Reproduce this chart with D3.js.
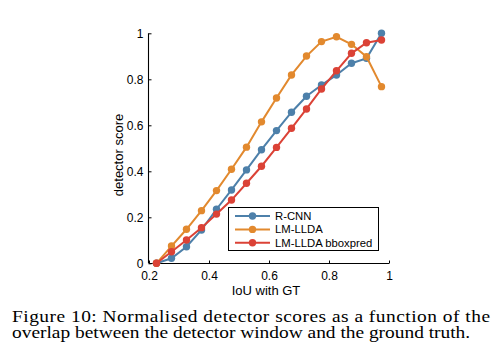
<!DOCTYPE html>
<html>
<head>
<meta charset="utf-8">
<script src="https://cdn.jsdelivr.net/npm/d3@7"></script>
<style>
  body { margin: 0; background: #fff; }
  svg { display: block; }
</style>
</head>
<body>
<svg id="chart"></svg>
<script>
var width = 498;
var height = 352;

// IoU bin centres
var iou = [0.225, 0.275, 0.325, 0.375, 0.425, 0.475, 0.525, 0.575, 0.625, 0.675, 0.725, 0.775, 0.825, 0.875, 0.925, 0.975];
var seriesNames = ["R-CNN", "LM-LLDA", "LM-LLDA bboxpred"];
var rcnn = [0, 0.022, 0.072, 0.145, 0.235, 0.319, 0.406, 0.494, 0.577, 0.657, 0.726, 0.775, 0.819, 0.870, 0.891, 1.0];
var lmllda = [0, 0.075, 0.148, 0.229, 0.316, 0.409, 0.505, 0.615, 0.719, 0.819, 0.901, 0.964, 0.985, 0.952, 0.898, 0.768];
var bboxpred = [0, 0.05, 0.101, 0.155, 0.214, 0.275, 0.348, 0.422, 0.504, 0.587, 0.671, 0.758, 0.837, 0.913, 0.959, 0.971];
var xTicks = [0.2, 0.4, 0.6, 0.8, 1];
var yTicks = [0, 0.2, 0.4, 0.6, 0.8, 1];
var colors = ["#4d80aa", "#e2892e", "#db4236"];

var svg = d3.select("#chart")
  .attr("width", width)
  .attr("height", height);

var x = d3.scaleLinear().domain([0.2, 1]).range([149, 389]);
var y = d3.scaleLinear().domain([0, 1]).range([263.3, 33.3]);

var sans = "'Liberation Sans', Arial, sans-serif";

// axes, ticks pointing inward
var yAxis = svg.append("g")
  .attr("transform", "translate(148.5,0)")
  .call(d3.axisLeft(y).tickValues(yTicks).tickSize(-3).tickPadding(5).tickFormat(d3.format("")));
var xAxis = svg.append("g")
  .attr("transform", "translate(0,263.5)")
  .call(d3.axisBottom(x).tickValues(xTicks).tickSize(-3).tickPadding(7.5).tickFormat(d3.format("")));

[xAxis, yAxis].forEach(function(g) {
  g.select(".domain").attr("stroke", "#000").attr("stroke-width", 1.1);
  g.selectAll(".tick line").attr("stroke", "#000");
  g.selectAll(".tick text")
    .attr("fill", "#000")
    .style("font-family", sans)
    .style("font-size", "12px");
});
yAxis.select(".domain").attr("d", "M0," + y(0) + "V" + y(1));
xAxis.select(".domain").attr("d", "M" + x(0.2) + ",0H" + x(1));

// axis labels
svg.append("text")
  .attr("transform", "translate(122.5,155) rotate(-90)")
  .attr("text-anchor", "middle")
  .style("font-family", sans)
  .style("font-size", "13px")
  .text("detector score");

svg.append("text")
  .attr("x", 266)
  .attr("y", 295)
  .attr("text-anchor", "middle")
  .style("font-family", sans)
  .style("font-size", "13px")
  .text("IoU with GT");

// series
var allSeries = [rcnn, lmllda, bboxpred];
var line = d3.line().x((d, i) => x(iou[i])).y(d => y(d));

allSeries.forEach(function(vals, k) {
  svg.append("path")
    .datum(vals)
    .attr("d", line)
    .attr("fill", "none")
    .attr("stroke", colors[k])
    .attr("stroke-width", 2);
  svg.selectAll("circle.s" + k)
    .data(vals)
    .join("circle")
      .attr("class", "s" + k)
      .attr("cx", (d, i) => x(iou[i]))
      .attr("cy", d => y(d))
      .attr("r", 3.7)
      .attr("fill", colors[k]);
});

// legend
var legend = svg.append("g");
legend.append("rect")
  .attr("x", 228.5).attr("y", 207.5)
  .attr("width", 150).attr("height", 43)
  .attr("fill", "#fff")
  .attr("stroke", "#000")
  .attr("stroke-width", 1);

seriesNames.forEach(function(name, k) {
  var ly = 216 + k * 13.4;
  legend.append("line")
    .attr("x1", 235).attr("x2", 270)
    .attr("y1", ly).attr("y2", ly)
    .attr("stroke", colors[k]).attr("stroke-width", 2);
  legend.append("circle")
    .attr("cx", 252.5).attr("cy", ly).attr("r", 3.7)
    .attr("fill", colors[k]);
  legend.append("text")
    .attr("x", 275).attr("y", ly + 4)
    .style("font-family", sans)
    .style("font-size", "11.3px")
    .text(name);
});

// caption (horizontally stretched like the source image)
var sx = 1.19;
var caption = svg.append("g")
  .attr("transform", "translate(12,0) scale(" + sx + ",1)")
  .style("font-family", "'Liberation Serif', 'Times New Roman', serif")
  .style("font-size", "16.3px")
  .attr("fill", "#000");
caption.append("text")
  .attr("x", 0).attr("y", 322)
  .attr("textLength", 478 / sx)
  .attr("lengthAdjust", "spacing")
  .text("Figure 10: Normalised detector scores as a function of the");
caption.append("text")
  .attr("x", 0).attr("y", 338)
  .text("overlap between the detector window and the ground truth.");
</script>
</body>
</html>
